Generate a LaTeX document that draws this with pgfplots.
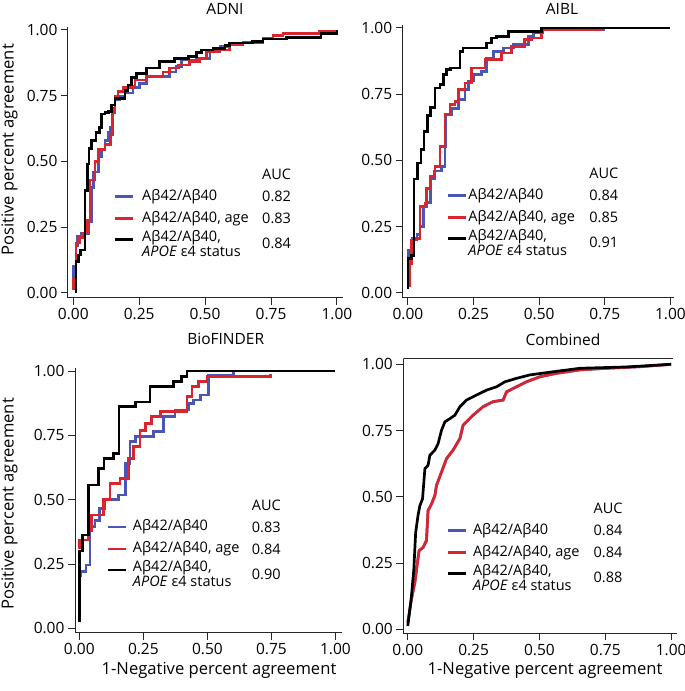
\documentclass[border=0pt]{standalone}
\usepackage{fontspec}
\setmainfont{Open Sans}
\usepackage{pgfplots}
\pgfplotsset{compat=1.18}

\definecolor{cblue}{RGB}{74,86,181}
\definecolor{cred}{RGB}{217,38,46}
\newcommand\fs{\fontsize{14.5}{15}\selectfont}
\newcommand\ft{\fontsize{15.5}{16}\selectfont}
\newcommand\fl{\fontsize{16.6}{17}\selectfont}

\pgfplotsset{
  roc/.style={scale only axis, anchor=south west,
    axis x line*=bottom, axis y line*=left,
    axis line style={-,line width=1pt,black!85},
    tick style={line width=1pt,black!85}, major tick length=7pt, tick align=outside,
    xtick={0,0.25,0.5,0.75,1}, ytick={0,0.25,0.5,0.75,1},
    xticklabels={0.00,0.25,0.50,0.75,1.00}, yticklabels={0.00,0.25,0.50,0.75,1.00},
    tick label style={font=\ft},
    every axis plot/.append style={line width=2.7pt}},
  stp/.style={const plot mark left}
}

% legend block: #1,#2 rel position of line start / AUC row, #3 text dx, #4 AUC dx, #5-#7 values
\newcommand\aucleg[7]{%
  \coordinate (L) at (rel axis cs:#1,#2);
  \node[anchor=west,inner sep=0,font=\fs] at ([xshift=#4]L) {AUC};
  \draw[cblue,line width=2.7pt] ([yshift=-22pt]L) -- ([xshift=18pt,yshift=-22pt]L);
  \draw[cred,line width=2.7pt] ([yshift=-44pt]L) -- ([xshift=18pt,yshift=-44pt]L);
  \draw[black,line width=2.7pt] ([yshift=-65pt]L) -- ([xshift=18pt,yshift=-65pt]L);
  \node[anchor=west,inner sep=0,font=\fs] at ([xshift=#3,yshift=-22pt]L) {Aβ42/Aβ40};
  \node[anchor=west,inner sep=0,font=\fs] at ([xshift=#3,yshift=-44pt]L) {Aβ42/Aβ40, age};
  \node[anchor=west,inner sep=0,font=\fs,align=left] at ([xshift=#3,yshift=-69pt]L) {Aβ42/Aβ40,\\\textit{APOE} ε4 status};
  \node[anchor=west,inner sep=0,font=\fs] at ([xshift=#4,yshift=-22pt]L) {#5};
  \node[anchor=west,inner sep=0,font=\fs] at ([xshift=#4,yshift=-44pt]L) {#6};
  \node[anchor=west,inner sep=0,font=\fs] at ([xshift=#4,yshift=-69pt]L) {#7};
}

\begin{document}
\begin{tikzpicture}
\path[use as bounding box] (0,0) rectangle (685pt,691pt);

% ADNI
\begin{axis}[roc, at={(68pt,393pt)}, width=275pt, height=271pt,
  xmin=-0.02, xmax=1.023, ymin=-0.019, ymax=1.011]
\addplot[stp,cblue] coordinates {(0.0,0.04) (0.0,0.1) (0.01,0.18) (0.015,0.215) (0.03,0.225) (0.06,0.27) (0.068,0.4) (0.076,0.46) (0.095,0.52) (0.107,0.545) (0.12,0.58) (0.133,0.61) (0.139,0.63) (0.15,0.7) (0.158,0.734) (0.177,0.747) (0.196,0.76) (0.227,0.78) (0.25,0.797) (0.278,0.823) (0.366,0.84) (0.39,0.86) (0.41,0.886) (0.467,0.892) (0.518,0.918) (0.556,0.937) (0.593,0.95) (0.644,0.952) (0.72,0.968) (0.757,0.98) (0.795,0.987) (0.934,0.994) (1.0,1.0)};
\addplot[stp,cred] coordinates {(0.0,0.013) (0.0,0.05) (0.01,0.19) (0.023,0.21) (0.036,0.228) (0.053,0.278) (0.063,0.43) (0.082,0.5) (0.095,0.545) (0.12,0.565) (0.14,0.6) (0.15,0.685) (0.158,0.747) (0.17,0.766) (0.19,0.78) (0.227,0.785) (0.234,0.81) (0.278,0.823) (0.34,0.84) (0.366,0.855) (0.4,0.867) (0.44,0.88) (0.48,0.892) (0.505,0.917) (0.55,0.924) (0.593,0.943) (0.644,0.952) (0.72,0.968) (0.757,0.98) (0.795,0.987) (0.934,0.994) (1.0,1.0)};
\addplot[stp,black] coordinates {(0.01,0.0) (0.01,0.12) (0.019,0.144) (0.028,0.163) (0.044,0.39) (0.053,0.49) (0.06,0.55) (0.07,0.58) (0.086,0.61) (0.1,0.63) (0.107,0.68) (0.12,0.685) (0.133,0.69) (0.145,0.715) (0.158,0.74) (0.196,0.77) (0.208,0.79) (0.221,0.82) (0.24,0.835) (0.278,0.855) (0.328,0.88) (0.385,0.89) (0.436,0.9) (0.467,0.915) (0.486,0.924) (0.53,0.93) (0.575,0.94) (0.593,0.95) (0.68,0.956) (0.72,0.965) (0.81,0.972) (0.94,0.987) (1.0,1.0)};
\aucleg{0.171}{0.455}{27pt}{147pt}{0.82}{0.83}{0.84}
\end{axis}

% AIBL
\begin{axis}[roc, at={(402.7pt,393pt)}, width=271pt, height=273pt,
  xmin=-0.02, xmax=1.0125, ymin=-0.019, ymax=1.011]
\addplot[stp,cblue] coordinates {(0.0,0.03) (0.001,0.16) (0.015,0.205) (0.035,0.22) (0.046,0.25) (0.058,0.325) (0.072,0.34) (0.086,0.43) (0.1,0.46) (0.128,0.477) (0.141,0.552) (0.145,0.672) (0.166,0.697) (0.192,0.73) (0.217,0.767) (0.23,0.8) (0.249,0.823) (0.28,0.836) (0.3,0.887) (0.325,0.912) (0.363,0.924) (0.401,0.937) (0.458,0.968) (0.477,0.981) (0.515,0.994) (0.744,0.994) (0.744,1.0)};
\addplot[stp,cred] coordinates {(0.008,0.023) (0.008,0.11) (0.014,0.2) (0.033,0.205) (0.046,0.325) (0.065,0.338) (0.071,0.395) (0.086,0.44) (0.103,0.477) (0.122,0.552) (0.141,0.672) (0.16,0.71) (0.179,0.722) (0.192,0.767) (0.217,0.792) (0.242,0.849) (0.293,0.88) (0.357,0.905) (0.395,0.93) (0.445,0.956) (0.47,0.962) (0.509,0.994) (0.744,0.994)};
\addplot[stp,black] coordinates {(0.0,0.016) (0.0,0.13) (0.014,0.142) (0.023,0.43) (0.036,0.49) (0.05,0.54) (0.061,0.61) (0.074,0.67) (0.086,0.7) (0.103,0.773) (0.122,0.786) (0.135,0.823) (0.147,0.842) (0.162,0.849) (0.198,0.912) (0.21,0.924) (0.3,0.943) (0.318,0.962) (0.338,0.968) (0.382,0.987) (0.509,1.0) (1.0,1.0)};
\aucleg{0.168}{0.457}{20pt}{141pt}{0.84}{0.85}{0.91}
\end{axis}

% BioFINDER
\begin{axis}[roc, at={(75pt,58.3pt)}, width=266.8pt, height=265pt,
  xmin=-0.017, xmax=1.025, ymin=-0.017, ymax=1.013]
\addplot[stp,cblue] coordinates {(0.005,0.2) (0.005,0.22) (0.026,0.246) (0.042,0.395) (0.061,0.42) (0.08,0.466) (0.1,0.5) (0.153,0.518) (0.179,0.641) (0.198,0.725) (0.218,0.745) (0.289,0.764) (0.329,0.822) (0.374,0.848) (0.426,0.874) (0.446,0.887) (0.472,0.907) (0.505,0.984) (0.602,1.0) (1.0,1.0)};
\addplot[stp,cred] coordinates {(0.0,0.31) (0.0,0.343) (0.035,0.38) (0.048,0.44) (0.094,0.5) (0.12,0.563) (0.159,0.583) (0.192,0.66) (0.211,0.706) (0.237,0.77) (0.257,0.797) (0.283,0.822) (0.316,0.842) (0.42,0.9) (0.44,0.94) (0.466,0.958) (0.498,0.978) (0.746,0.99)};
\addplot[stp,black] coordinates {(0.0,0.026) (0.0,0.3) (0.013,0.363) (0.035,0.557) (0.074,0.622) (0.096,0.66) (0.133,0.68) (0.155,0.861) (0.218,0.88) (0.276,0.94) (0.368,0.958) (0.4,0.978) (0.42,1.0) (1.0,1.0)};
\aucleg{0.125}{0.482}{24.4pt}{143.4pt}{0.83}{0.84}{0.90}
\end{axis}

% Combined
\begin{axis}[roc, at={(403.3pt,57.7pt)}, width=273.5pt, height=274.3pt,
  xmin=-0.017, xmax=1.0216, ymin=-0.015, ymax=1.02]
\addplot[cblue] coordinates {(0.0,0.025) (0.014,0.114) (0.027,0.177) (0.035,0.24) (0.043,0.297) (0.058,0.309) (0.071,0.335) (0.077,0.448) (0.09,0.473) (0.103,0.505) (0.109,0.543) (0.128,0.593) (0.147,0.644) (0.172,0.676) (0.198,0.72) (0.21,0.77) (0.229,0.789) (0.248,0.808) (0.286,0.84) (0.324,0.859) (0.362,0.865) (0.375,0.896) (0.413,0.915) (0.451,0.934) (0.502,0.953) (0.565,0.966) (0.654,0.979) (0.755,0.985) (0.882,0.991) (1.0,1.0)};
\addplot[cred] coordinates {(0.0,0.025) (0.014,0.114) (0.027,0.177) (0.035,0.24) (0.043,0.297) (0.058,0.309) (0.071,0.335) (0.077,0.448) (0.09,0.473) (0.103,0.505) (0.109,0.543) (0.128,0.593) (0.147,0.644) (0.172,0.676) (0.198,0.72) (0.21,0.77) (0.229,0.789) (0.248,0.808) (0.286,0.84) (0.324,0.859) (0.362,0.865) (0.375,0.896) (0.413,0.915) (0.451,0.934) (0.502,0.953) (0.565,0.966) (0.654,0.979) (0.755,0.985) (0.882,0.991) (1.0,1.0)};
\addplot[black] coordinates {(0.0,0.013) (0.008,0.076) (0.014,0.126) (0.023,0.227) (0.03,0.366) (0.039,0.43) (0.046,0.467) (0.056,0.492) (0.065,0.606) (0.077,0.619) (0.084,0.657) (0.103,0.676) (0.115,0.7) (0.128,0.751) (0.141,0.783) (0.16,0.795) (0.179,0.808) (0.198,0.84) (0.223,0.865) (0.261,0.884) (0.3,0.903) (0.337,0.915) (0.369,0.934) (0.413,0.947) (0.464,0.96) (0.553,0.972) (0.654,0.985) (0.831,0.99) (1.0,1.0)};
\draw[line width=1pt,black!85] (rel axis cs:0,1) -- (rel axis cs:0.985,1);
\aucleg{0.165}{0.456}{24.4pt}{145pt}{0.84}{0.84}{0.88}
\end{axis}

% titles and axis labels
\node[font=\ft] at (225pt,682.5pt) {ADNI};
\node[font=\ft] at (562pt,682.5pt) {AIBL};
\node[font=\ft] at (225.7pt,352pt) {BioFINDER};
\node[font=\ft] at (563pt,351pt) {Combined};
\node[font=\fl] at (219pt,21pt) {1-Negative percent agreement};
\node[font=\fl] at (545pt,21pt) {1-Negative percent agreement};
\node[font=\fl,rotate=90] at (9.5pt,541pt) {Positive percent agreement};
\node[font=\fl,rotate=90] at (9.5pt,187pt) {Positive percent agreement};
\end{tikzpicture}
\end{document}
